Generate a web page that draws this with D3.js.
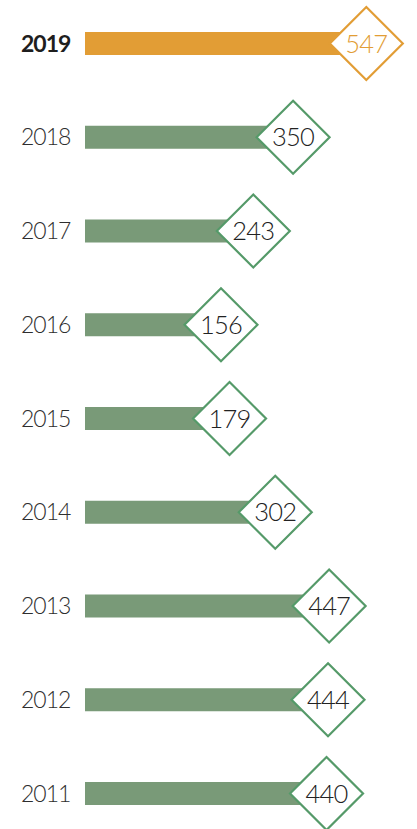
<!DOCTYPE html>
<html>
<head>
<meta charset="utf-8">
<script src="https://cdn.jsdelivr.net/npm/d3@7"></script>
<style>
  html, body { margin: 0; padding: 0; background: #ffffff; }
  svg { display: block; }
</style>
</head>
<body>
<svg id="chart" width="417" height="829"></svg>
<script>
const years = ["2019", "2018", "2017", "2016", "2015", "2014", "2013", "2012", "2011"];
const values = [547, 350, 243, 156, 179, 302, 447, 444, 440];
const highlightYear = "2019";

const W = 417, H = 829;
const svg = d3.select("#chart");

const y = d3.scalePoint().domain(years).range([43.5, 793.5]);
const x = d3.scaleLinear().domain([0, 600]).range([163, 386]);
const barStart = 85;
const barH = 23;
const half = 36.5;

const green = "#799a78", greenStroke = "#559a69", orange = "#e29d35";
const colorOf = yr => yr === highlightYear ? orange : green;
const strokeOf = yr => yr === highlightYear ? orange : greenStroke;

const rows = svg.selectAll("g.row")
  .data(years.map((yr, i) => ({ yr, v: values[i] })))
  .join("g")
  .attr("class", "row")
  .attr("transform", d => `translate(0,${y(d.yr)})`);

rows.append("text")
  .attr("x", 21)
  .attr("y", 0)
  .attr("dy", "0.35em")
  .attr("font-family", "Lato, 'Noto Sans', sans-serif")
  .attr("font-size", 23)
  .attr("letter-spacing", -1)
  .attr("font-weight", d => d.yr === highlightYear ? 700 : 300)
  .attr("fill", d => d.yr === highlightYear ? "#1e1e1e" : "#2e2e2e")
  .text(d => d.yr);

rows.append("rect")
  .attr("x", barStart)
  .attr("y", -barH / 2)
  .attr("width", d => x(d.v) - barStart)
  .attr("height", barH)
  .attr("fill", d => colorOf(d.yr));

rows.append("path")
  .attr("d", d => {
    const cx = x(d.v);
    return `M${cx},${-half} L${cx + half},0 L${cx},${half} L${cx - half},0 Z`;
  })
  .attr("fill", "#fff")
  .attr("stroke", d => strokeOf(d.yr))
  .attr("stroke-width", 2.2);

rows.append("text")
  .attr("x", d => x(d.v))
  .attr("y", 0)
  .attr("dy", "0.36em")
  .attr("text-anchor", "middle")
  .attr("font-family", "Lato, 'Noto Sans', sans-serif")
  .attr("font-size", 25.5)
  .attr("letter-spacing", -0.8)
  .attr("font-weight", 300)
  .attr("fill", d => d.yr === highlightYear ? orange : "#222")
  .text(d => d.v);
</script>
</body>
</html>
